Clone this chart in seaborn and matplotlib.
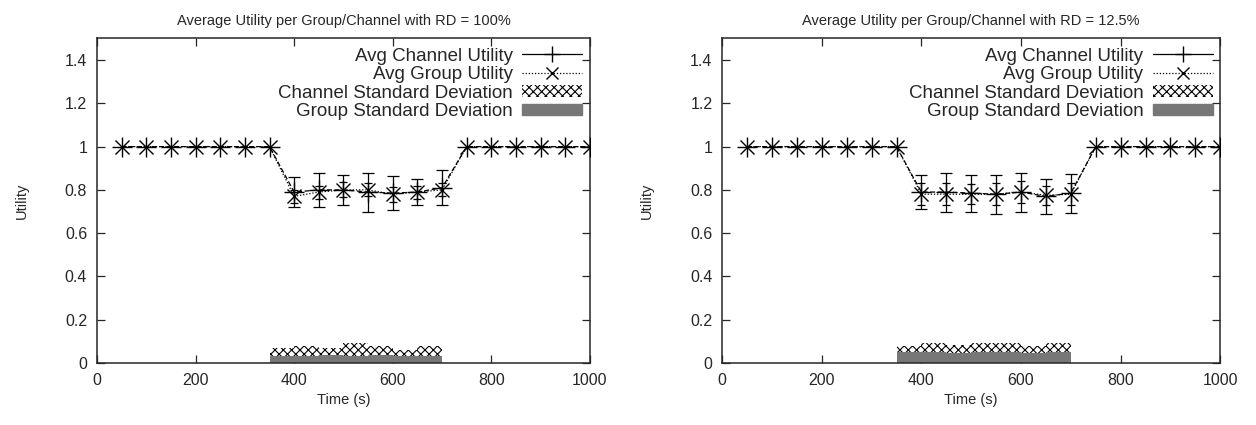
import numpy as np
import pandas as pd
import seaborn as sns
import matplotlib.pyplot as plt
from matplotlib.patches import Patch
from matplotlib.lines import Line2D

# time axis (s)
times = [50, 100, 150, 200, 250, 300, 350, 400, 450, 500,
         550, 600, 650, 700, 750, 800, 850, 900, 950, 1000]

# RD = 100%
chan_mean_100 = [1, 1, 1, 1, 1, 1, 1, 0.79, 0.80, 0.80,
                 0.79, 0.785, 0.79, 0.81, 1, 1, 1, 1, 1, 1]
group_mean_100 = [1, 1, 1, 1, 1, 1, 1, 0.77, 0.79, 0.80,
                  0.80, 0.78, 0.79, 0.80, 1, 1, 1, 1, 1, 1]
chan_std_100 = [0, 0, 0, 0, 0, 0, 0, 0.07, 0.08, 0.07,
                0.09, 0.08, 0.06, 0.08, 0, 0, 0, 0, 0, 0]
group_std_100 = [0, 0, 0, 0, 0, 0, 0, 0.03, 0.03, 0.035,
                 0.03, 0.035, 0.03, 0.03, 0, 0, 0, 0, 0, 0]

# RD = 12.5%
chan_mean_125 = [1, 1, 1, 1, 1, 1, 1, 0.79, 0.79, 0.785,
                 0.78, 0.79, 0.77, 0.785, 1, 1, 1, 1, 1, 1]
group_mean_125 = [1, 1, 1, 1, 1, 1, 1, 0.78, 0.78, 0.78,
                  0.78, 0.79, 0.775, 0.78, 1, 1, 1, 1, 1, 1]
chan_std_125 = [0, 0, 0, 0, 0, 0, 0, 0.08, 0.09, 0.085,
                0.09, 0.09, 0.08, 0.09, 0, 0, 0, 0, 0, 0]
group_std_125 = [0, 0, 0, 0, 0, 0, 0, 0.05, 0.05, 0.045,
                 0.05, 0.05, 0.045, 0.05, 0, 0, 0, 0, 0, 0]

titles = ["Average Utility per Group/Channel with RD = 100%",
          "Average Utility per Group/Channel with RD = 12.5%"]

sns.set_style("ticks")
plt.rcParams['font.family'] = ['Liberation Sans', 'DejaVu Sans']
plt.rcParams['hatch.linewidth'] = 0.8

fig = plt.figure(figsize=(12.56, 4.25), dpi=100)
ax1 = fig.add_axes([0.0772, 0.146, 0.3925, 0.7635])
ax2 = fig.add_axes([0.575, 0.146, 0.3965, 0.7635])

panels = [
    (ax1, chan_mean_100, group_mean_100, chan_std_100, group_std_100),
    (ax2, chan_mean_125, group_mean_125, chan_std_125, group_std_125),
]

for i, (ax, cm, gm, cs, gs) in enumerate(panels):
    df = pd.DataFrame({"time": times, "chan": cm, "group": gm,
                       "cstd": cs, "gstd": gs})
    dip = df[df["cstd"] > 0]

    # std bars, covering the interval before each sample
    ax.bar(dip["time"], dip["cstd"], width=-50, align="edge",
           facecolor="white", edgecolor="black", hatch="xxxx",
           linewidth=0, zorder=1)
    ax.bar(dip["time"], dip["gstd"], width=-50, align="edge",
           facecolor="#777777", edgecolor="#777777", linewidth=0, zorder=2)

    # mean lines
    sns.lineplot(data=df, x="time", y="chan", ax=ax, color="black",
                 linestyle=(0, (4, 2)), linewidth=0.9, marker="+",
                 markersize=14, markeredgewidth=1.0, markeredgecolor="black",
                 zorder=4)
    sns.lineplot(data=df, x="time", y="group", ax=ax, color="black",
                 linestyle=(0, (1, 1.5)), linewidth=0.9, marker="x",
                 markersize=10, markeredgewidth=1.0, markeredgecolor="black",
                 zorder=4)

    # error bars
    ax.errorbar(dip["time"], dip["chan"], yerr=dip["cstd"], fmt="none",
                ecolor="black", elinewidth=0.9, capsize=4, capthick=0.9,
                zorder=5)
    eb = ax.errorbar(dip["time"], dip["group"], yerr=dip["gstd"], fmt="none",
                     ecolor="black", elinewidth=0.9, capsize=3, capthick=0.9,
                     zorder=5)
    for c in eb[2]:
        c.set_linestyle((0, (1, 1.5)))

    ax.set_xlim(0, 1000)
    ax.set_ylim(0, 1.5)
    ax.set_xticks([0, 200, 400, 600, 800, 1000])
    ax.set_yticks([0, 0.2, 0.4, 0.6, 0.8, 1.0, 1.2, 1.4])
    ax.set_yticklabels(["0", "0.2", "0.4", "0.6", "0.8", "1", "1.2", "1.4"])
    ax.tick_params(direction="in", length=6, width=0.9, top=True, right=True,
                   labelsize=11.5, pad=7)
    for s in ax.spines.values():
        s.set_linewidth(1.1)
        s.set_visible(True)
    ax.set_xlabel("Time (s)", fontsize=10.5)
    ax.set_ylabel("Utility", fontsize=10.5, labelpad=26)
    ax.set_title(titles[i], fontsize=10.5, pad=10)

    handles = [
        Line2D([], [], color="black", marker="+", markersize=11,
               linewidth=0.9),
        Line2D([], [], color="black", marker="x", markersize=9,
               linestyle=(0, (1, 1.5)), linewidth=0.9),
        Patch(facecolor="white", edgecolor="black", hatch="xxxx",
              linewidth=0),
        Patch(facecolor="#777777", edgecolor="#777777"),
    ]
    labels = ["Avg Channel Utility", "Avg Group Utility",
              "Channel Standard Deviation", "Group Standard Deviation"]
    ax.legend(handles, labels, loc="upper right", frameon=False,
              markerfirst=False, fontsize=13.5, handlelength=3.2,
              handleheight=0.6, labelspacing=0.08, borderaxespad=0.0,
              handletextpad=0.5, bbox_to_anchor=(1.0, 0.995))

fig.savefig("out.png", dpi=100)
